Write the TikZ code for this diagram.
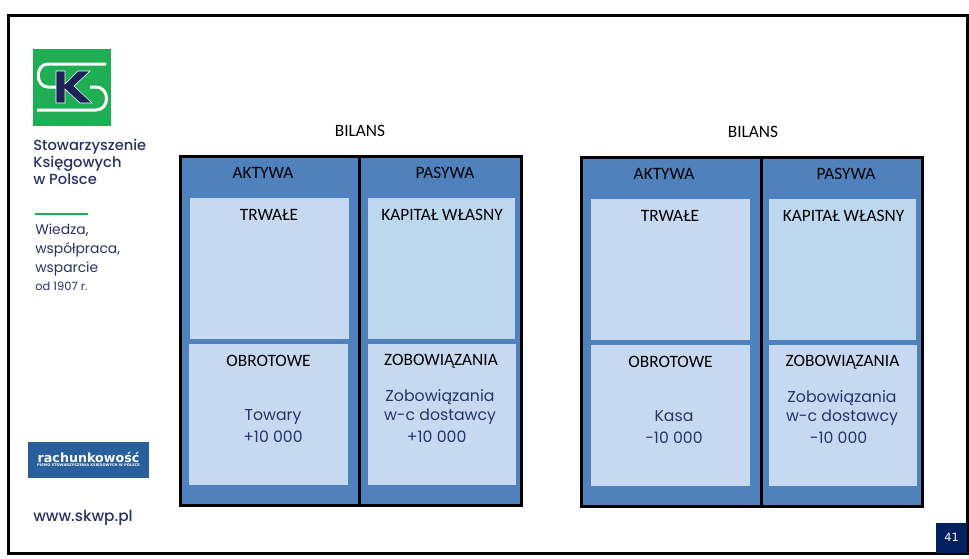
\documentclass[tikz,border=0pt]{standalone}
\usepackage{fontspec}
\setmainfont{Carlito}
\newfontfamily\brandfont{Poppins}
\newfontfamily\brandmid{Poppins Medium}
\newfontfamily\railfont{DejaVu Sans}
\definecolor{skblue}{HTML}{4F81BD}
\definecolor{skpale}{HTML}{C6D9F1}
\definecolor{skpaler}{HTML}{BDD7EE}
\definecolor{sknavy}{HTML}{2B3263}
\definecolor{skkay}{HTML}{1B2358}
\definecolor{sknote}{HTML}{22386B}
\definecolor{skgreen}{HTML}{1FAE54}
\definecolor{skrail}{HTML}{2A5F9E}
\definecolor{skpage}{HTML}{002060}
\tikzstyle{side} = [rectangle, draw=black, line width=2.25pt, fill=skblue, anchor=north west, inner sep=0pt, outer sep=0pt]
\tikzstyle{part} = [rectangle, fill=skpale, anchor=north west, inner sep=0pt, outer sep=0pt]
\tikzstyle{head} = [font=\fontsize{13}{15}\selectfont, text=black, inner sep=0pt]
\tikzstyle{note} = [font=\brandfont\fontsize{11.8}{14.2}\selectfont, text=sknote, align=center, inner sep=0pt]
\tikzstyle{brand} = [font=\brandmid\fontsize{11}{12.8}\selectfont, text=sknavy, align=left, anchor=north west, inner sep=0pt]
\begin{document}
\begin{tikzpicture}[x=0.75pt, y=-0.75pt]
  \useasboundingbox (0,0) rectangle (969,558);
  \fill [white] (0,0) rectangle (969,558);
  \draw [black, line width=2.25pt] (8.5,15.5) rectangle (967,553);

  % logo
  \node (logo) [rectangle, fill=skgreen, anchor=north west, minimum width=58.5pt, minimum height=57.75pt, inner sep=0pt] at (33,49) {};
  \draw [white, line width=2.25pt] (106,64) -- (48,64) .. controls (35,64) and (35,87) .. (48,87) -- (58,87);
  \draw [white, line width=2.25pt] (90,87) -- (96,87) .. controls (110,87) and (110,110) .. (96,110) -- (37,110);
  \filldraw [fill=skkay, draw=white, line width=0.4pt] (56,71) -- (65,71) -- (65,84) -- (78,71) -- (90,71) -- (74,86) -- (92,103) -- (80,103) -- (65,89) -- (65,103) -- (56,103) -- cycle;
  \node (name) [brand] at (33,139) {Stowarzyszenie\\Księgowych\\w Polsce};
  \draw [skgreen, line width=1.2pt] (35,214) -- (88,214);
  \node (motto) [brand, font=\brandfont\fontsize{10.4}{14}\selectfont] at (35,224) {Wiedza,\\współpraca,\\wsparcie};
  \node (since) [brand, font=\brandfont\fontsize{8.6}{10}\selectfont, anchor=west] at (35,286) {od 1907 r.};
  \node (rail) [rectangle, fill=skrail, anchor=north west, minimum width=90.75pt, minimum height=27pt, inner sep=0pt] at (28,442) {};
  \node (railname) [font=\railfont\bfseries\fontsize{9.5}{11}\selectfont, text=white, inner sep=0pt] at (88.5,457) {rachunkowość};
  \node (railsub) [font=\railfont\bfseries\fontsize{2.7}{3}\selectfont, text=white, inner sep=0pt] at (88.5,466) {PISMO STOWARZYSZENIA KSIĘGOWYCH W POLSCE};
  \node (www) [brand, font=\brandmid\fontsize{11.5}{13}\selectfont, anchor=west] at (33,518) {www.skwp.pl};

  % left balance
  \node (title1) [head] at (360,131) {BILANS};
  \node (akt1) [side, minimum width=134.25pt, minimum height=261.75pt] at (180.5,156.5) {};
  \node (pas1) [side, minimum width=121.5pt, minimum height=261.75pt] at (359.5,156.5) {};
  \node (trw1) [part, minimum width=119.25pt, minimum height=105.75pt] at (190,198) {};
  \node (obr1) [part, minimum width=119.25pt, minimum height=105.75pt] at (189,344) {};
  \node (kap1) [part, fill=skpaler, minimum width=110.25pt, minimum height=105.75pt] at (368,198) {};
  \node (zob1) [part, minimum width=111pt, minimum height=105.75pt] at (368,344) {};
  \node (akt1t) [head] at (263,173) {AKTYWA};
  \node (pas1t) [head] at (445,172.5) {PASYWA};
  \node (trw1t) [head] at (269,215) {TRWAŁE};
  \node (kap1t) [head] at (442,215) {KAPITAŁ WŁASNY};
  \node (obr1t) [head] at (268.5,361) {OBROTOWE};
  \node (zob1t) [head] at (441,361) {ZOBOWIĄZANIA};
  \node (obr1n) [note] at (273,426) {Towary\\[2.2pt]+10 000};
  \node (zob1n) [note] at (440,416) {Zobowiązania\\w-c dostawcy\\[2.2pt]+10 000\hspace{5pt}\mbox{}};

  % right balance
  \node (title2) [head] at (753,132) {BILANS};
  \node (akt2) [side, minimum width=135pt, minimum height=261.75pt] at (581.5,157.5) {};
  \node (pas2) [side, minimum width=120.75pt, minimum height=261.75pt] at (761.5,157.5) {};
  \node (trw2) [part, minimum width=119.25pt, minimum height=105.75pt] at (591,199) {};
  \node (obr2) [part, minimum width=119.25pt, minimum height=105.75pt] at (591,345) {};
  \node (kap2) [part, fill=skpaler, minimum width=110.25pt, minimum height=105.75pt] at (769,199) {};
  \node (zob2) [part, minimum width=111pt, minimum height=105.75pt] at (769,345) {};
  \node (akt2t) [head] at (664,174) {AKTYWA};
  \node (pas2t) [head] at (846,173.5) {PASYWA};
  \node (trw2t) [head] at (670,216) {TRWAŁE};
  \node (kap2t) [head] at (843.5,216) {KAPITAŁ WŁASNY};
  \node (obr2t) [head] at (670.5,362) {OBROTOWE};
  \node (zob2t) [head] at (842.5,362) {ZOBOWIĄZANIA};
  \node (obr2n) [note] at (674,427) {Kasa\\[2.2pt]-10 000};
  \node (zob2n) [note] at (842,417) {Zobowiązania\\w-c dostawcy\\[2.2pt]-10 000\hspace{5pt}\mbox{}};

  % page number
  \node (page) [rectangle, fill=skpage, text=white, font=\railfont\fontsize{8.5}{10}\selectfont, minimum width=23.25pt, minimum height=22.5pt, inner sep=0pt] at (951.5,537.5) {41};
\end{tikzpicture}
\end{document}
